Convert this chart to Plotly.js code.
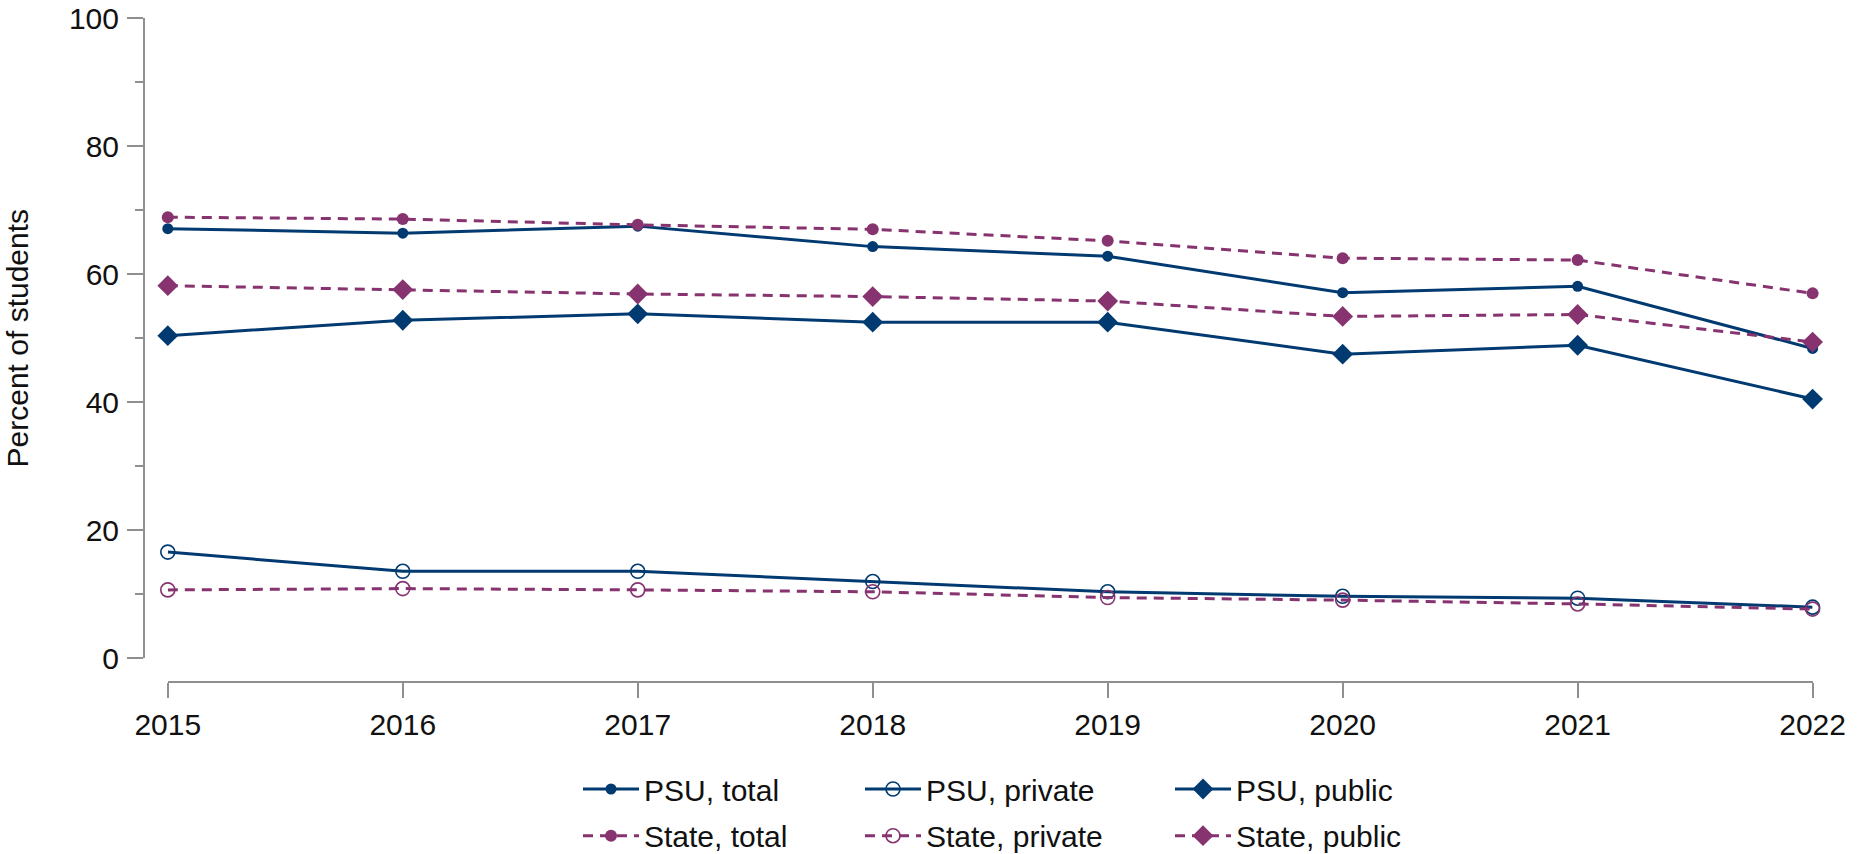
<!DOCTYPE html>
<html>
<head>
<meta charset="utf-8">
<script src="https://cdn.plot.ly/plotly-3.0.1.min.js"></script>
<style>
  html, body { margin: 0; padding: 0; background: #ffffff; }
  #chart { width: 1871px; height: 854px; }
</style>
</head>
<body>
<div id="chart"></div>
<script>
const years = [2015, 2016, 2017, 2018, 2019, 2020, 2021, 2022];
const psuTotal     = [67.1, 66.4, 67.5, 64.3, 62.8, 57.1, 58.1, 48.4];
const psuPrivate   = [16.6, 13.6, 13.6, 12.0, 10.4, 9.7, 9.4, 8.0];
const psuPublic    = [50.4, 52.8, 53.8, 52.5, 52.5, 47.5, 48.9, 40.5];
const stateTotal   = [68.9, 68.6, 67.7, 67.0, 65.2, 62.5, 62.2, 57.0];
const statePrivate = [10.7, 10.9, 10.7, 10.4, 9.5, 9.1, 8.5, 7.7];
const statePublic  = [58.2, 57.6, 56.9, 56.5, 55.8, 53.4, 53.7, 49.4];
const seriesNames = ["PSU, total", "PSU, private", "PSU, public", "State, total", "State, private", "State, public"];
const yTickVals = [0, 20, 40, 60, 80, 100];

const NAVY = "#003A70";
const PURPLE = "#86336F";
const AXIS = "#8f8f8f";
const FONT = "Arial, 'Liberation Sans', Helvetica, sans-serif";
const DASH = "10px,7px";

function tr(y, name, color, dash, symbol, size, legendId, hollow) {
  return {
    x: years, y: y, name: name, type: "scatter", mode: "lines+markers",
    cliponaxis: false, legend: legendId,
    line: { color: color, width: 3, dash: dash },
    marker: hollow
      ? { symbol: symbol, size: size, color: color, line: { color: color, width: 1.6 } }
      : { symbol: symbol, size: size, color: color, line: { width: 0 } }
  };
}

const data = [
  tr(psuTotal,     seriesNames[0], NAVY,   "solid", "circle",      11, "legend",  false),
  tr(psuPrivate,   seriesNames[1], NAVY,   "solid", "circle-open", 14, "legend2", true),
  tr(psuPublic,    seriesNames[2], NAVY,   "solid", "diamond",     16, "legend3", false),
  tr(stateTotal,   seriesNames[3], PURPLE, DASH,    "circle",      12, "legend4", false),
  tr(statePrivate, seriesNames[4], PURPLE, DASH,    "circle-open", 14, "legend5", true),
  tr(statePublic,  seriesNames[5], PURPLE, DASH,    "diamond",     16, "legend6", false)
];

function leg(x, y) {
  return {
    x: x, y: y, xanchor: "left", yanchor: "middle", orientation: "v",
    bgcolor: "rgba(0,0,0,0)", borderwidth: 0, itemwidth: 56,
    font: { family: FONT, size: 30, color: "#111111" }
  };
}
const W = 1871, H = 854;
const rowY = [1 - 789 / H, 1 - 835.7 / H];
const colX = [578 / W, 860 / W, 1170 / W];

const layout = {
  width: W, height: H,
  margin: { l: 0, r: 0, t: 0, b: 0, autoexpand: false },
  paper_bgcolor: "#ffffff", plot_bgcolor: "#ffffff",
  font: { family: FONT, size: 30, color: "#111111" },
  showlegend: true,
  hovermode: false,
  xaxis: {
    domain: [167.8 / W, 1812.6 / W],
    range: [2015, 2022],
    anchor: "free", position: 1 - 682.3 / H,
    tickmode: "array", tickvals: years, ticktext: years.map(String),
    showline: true, linecolor: AXIS, linewidth: 2,
    ticks: "outside", ticklen: 15, tickwidth: 2, tickcolor: AXIS,
    ticklabelstandoff: 1,
    showgrid: false, zeroline: false,
    tickfont: { family: FONT, size: 30, color: "#111111" },
    automargin: false
  },
  yaxis: {
    domain: [1 - 658.4 / H, 1 - 18.0 / H],
    range: [0, 100],
    anchor: "free", position: 144 / W,
    tickmode: "array", tickvals: yTickVals, ticktext: yTickVals.map(String),
    showline: true, linecolor: AXIS, linewidth: 2,
    ticks: "outside", ticklen: 16, tickwidth: 2, tickcolor: AXIS,
    ticklabelstandoff: 2,
    minor: { dtick: 10, tick0: 0, ticks: "outside", ticklen: 8, tickwidth: 2, tickcolor: AXIS, showgrid: false },
    showgrid: false, zeroline: false,
    tickfont: { family: FONT, size: 30, color: "#111111" },
    title: { text: "Percent of students", font: { family: FONT, size: 30, color: "#111111" }, standoff: 30 },
    automargin: false
  },
  legend:  leg(colX[0], rowY[0]),
  legend2: leg(colX[1], rowY[0]),
  legend3: leg(colX[2], rowY[0]),
  legend4: leg(colX[0], rowY[1]),
  legend5: leg(colX[1], rowY[1]),
  legend6: leg(colX[2], rowY[1])
};

Plotly.newPlot("chart", data, layout, { displayModeBar: false, staticPlot: true });
</script>
</body>
</html>
